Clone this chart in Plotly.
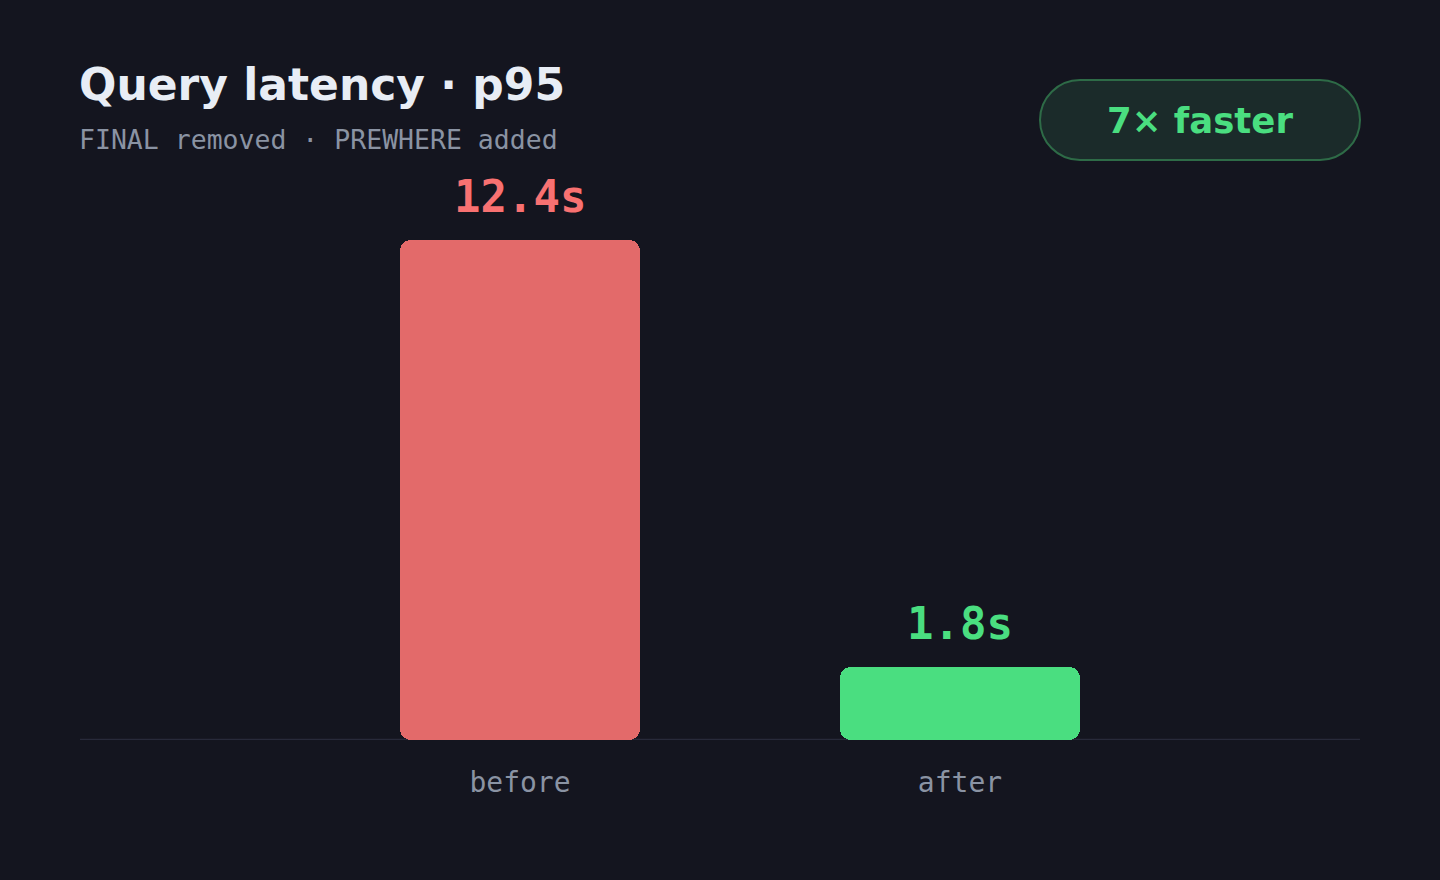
import plotly.graph_objects as go

# ---- data ----
categories = ["before", "after"]
latency_s = [12.4, 1.8]
value_labels = ["12.4s", "1.8s"]
bar_colors = ["#e36a6a", "#4ade80"]
label_colors = ["#f87171", "#4ade80"]
title_text = "Query latency · p95"
subtitle_text = "FINAL removed · PREWHERE added"
badge_text = "7× faster"

BG = "#14151f"
SANS = "DejaVu Sans, Verdana, sans-serif"
MONO = "DejaVu Sans Mono, monospace"

fig = go.Figure()

# Each bar drawn as two overlapping pieces so both ends get rounded corners
lower_top = [0.75 * v for v in latency_s]
upper_base = [0.25 * v for v in latency_s]
fig.add_trace(go.Bar(
    x=categories, y=[-t for t in lower_top], base=lower_top,
    marker=dict(color=bar_colors, cornerradius=11, line=dict(width=0)),
    width=0.545, hoverinfo="skip", showlegend=False,
))
fig.add_trace(go.Bar(
    x=categories, y=[v - b for v, b in zip(latency_s, upper_base)], base=upper_base,
    marker=dict(color=bar_colors, cornerradius=11, line=dict(width=0)),
    width=0.545, hoverinfo="skip", showlegend=False,
))

# value labels
for c, v, t, col in zip(categories, latency_s, value_labels, label_colors):
    fig.add_annotation(x=c, y=v, xref="x", yref="y", text=f"<b>{t}</b>",
                       showarrow=False, yanchor="middle", yshift=44,
                       font=dict(family=MONO, size=44, color=col))

# title + subtitle
fig.add_annotation(x=0, y=(740 - 85) / 500, xref="paper", yref="paper",
                   xanchor="left", yanchor="middle", showarrow=False, xshift=-3,
                   text=f"<b>{title_text}</b>",
                   font=dict(family=SANS, size=44, color="#e8edf5"))
fig.add_annotation(x=0, y=(740 - 139) / 500, xref="paper", yref="paper",
                   xanchor="left", yanchor="middle", showarrow=False, xshift=-3,
                   text=subtitle_text,
                   font=dict(family=MONO, size=26.5, color="#8a93a3"))

# badge (pill) in paper coords
x0, x1 = (1040 - 80) / 1280, (1360 - 80) / 1280
y0, y1 = (740 - 160) / 500, (740 - 80) / 500
rx, ry = 40 / 1280, 40 / 500
k = 0.5523
path = (
    f"M {x0+rx},{y1} L {x1-rx},{y1} "
    f"C {x1-rx+k*rx},{y1} {x1},{y1-ry+k*ry} {x1},{y1-ry} "
    f"C {x1},{y0+ry-k*ry} {x1-rx+k*rx},{y0} {x1-rx},{y0} "
    f"L {x0+rx},{y0} "
    f"C {x0+rx-k*rx},{y0} {x0},{y0+ry-k*ry} {x0},{y0+ry} "
    f"C {x0},{y1-ry+k*ry} {x0+rx-k*rx},{y1} {x0+rx},{y1} Z"
)
fig.add_shape(type="path", path=path, xref="paper", yref="paper",
              fillcolor="#1b2b2a", line=dict(color="#2e6b47", width=2), layer="above")
fig.add_annotation(x=(x0 + x1) / 2, y=(y0 + y1) / 2, xref="paper", yref="paper",
                   showarrow=False, text=f"<b>{badge_text}</b>",
                   xanchor="center", yanchor="middle",
                   font=dict(family=SANS, size=35.5, color="#4ade80"))

# baseline
fig.add_shape(type="line", xref="paper", yref="y", x0=0, x1=1, y0=0, y1=0,
              line=dict(color="#282a3a", width=2.5), layer="below")

fig.update_layout(
    width=1440, height=880,
    paper_bgcolor=BG, plot_bgcolor=BG,
    margin=dict(l=80, r=80, t=240, b=140),
    barmode="overlay", bargap=0,
    showlegend=False,
    xaxis=dict(type="category", range=[-1, 1 + 400 / 440],
               showgrid=False, zeroline=False, showline=False, ticks="",
               tickfont=dict(family=MONO, size=28, color="#8a93a3"),
               ticklabelstandoff=23, fixedrange=True),
    yaxis=dict(range=[0, 12.4], visible=False, fixedrange=True),
)

fig.write_html("out.html")
